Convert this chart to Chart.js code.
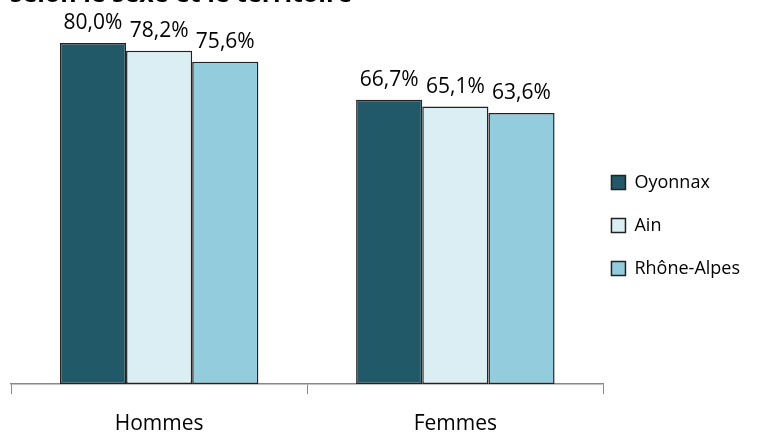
<!DOCTYPE html>
<html lang="fr">
<head>
<meta charset="UTF-8">
<title>Hommes / Femmes</title>
<script src="https://cdn.jsdelivr.net/npm/chart.js"></script>
<style>
    body { margin: 0; background: #fff; }
    #wrap { position: relative; width: 773px; height: 434px; overflow: hidden; }
    #titre {
        position: absolute; left: 10px; top: -22px;
        font-family: "Open Sans", sans-serif; font-weight: bold; font-size: 25px;
        line-height: 28px; color: #000; white-space: nowrap;
    }
</style>
</head>
<body>
<div id="wrap">
    <div id="titre">selon le sexe et le territoire</div>
    <canvas id="graph" width="773" height="434"></canvas>
</div>
<script>
    // données
    const categories = ['Hommes', 'Femmes'];
    const oyonnax = [80.0, 66.7];
    const ain = [78.2, 65.1];
    const rhoneAlpes = [75.6, 63.6];

    const police = '"Open Sans", sans-serif';

    // étiquettes de valeur au-dessus des barres
    const etiquettes = {
        id: 'etiquettes',
        afterDatasetsDraw(chart) {
            const ctx = chart.ctx;
            ctx.save();
            ctx.font = '21px ' + police;
            ctx.fillStyle = '#000';
            ctx.textAlign = 'center';
            ctx.textBaseline = 'alphabetic';
            chart.data.datasets.forEach((ds, i) => {
                chart.getDatasetMeta(i).data.forEach((bar, j) => {
                    const txt = ds.data[j].toFixed(1).replace('.', ',') + '%';
                    ctx.fillText(txt, bar.x, bar.y - 14);
                });
            });
            ctx.restore();
        }
    };

    // rapproche la légende de l'axe, comme sur l'original
    const decaleLegende = {
        id: 'decaleLegende',
        afterLayout(chart) {
            const l = chart.legend;
            l.left -= 17; l.right -= 17;
            l.top -= 1; l.bottom -= 1;
        }
    };

    new Chart(document.getElementById('graph'), {
        type: 'bar',
        data: {
            labels: categories,
            datasets: [
                { label: 'Oyonnax', data: oyonnax, backgroundColor: '#215968' },
                { label: 'Ain', data: ain, backgroundColor: '#DAEEF3' },
                { label: 'Rhône-Alpes', data: rhoneAlpes, backgroundColor: '#93CDDD' }
            ].map(d => Object.assign(d, { borderColor: '#222', borderWidth: 1.5, borderSkipped: false }))
        },
        plugins: [etiquettes, decaleLegende],
        options: {
            responsive: false,
            animation: false,
            layout: { padding: { top: 20, left: 11, right: 6, bottom: 1 } },
            datasets: { bar: { barPercentage: 1, categoryPercentage: 0.67 } },
            plugins: {
                tooltip: { enabled: false },
                legend: {
                    position: 'right',
                    labels: {
                        boxWidth: 14, boxHeight: 14, padding: 25,
                        color: '#000',
                        font: { family: police, size: 18 }
                    }
                }
            },
            scales: {
                x: {
                    afterFit(scale) { scale.height = 49; },
                    border: { color: '#888', width: 1.5 },
                    grid: { drawOnChartArea: false, drawTicks: true, tickLength: 10, color: '#888', offset: true },
                    ticks: { color: '#000', font: { family: police, size: 21 }, padding: 17 }
                },
                y: {
                    display: false,
                    min: 0, max: 85.4
                }
            }
        }
    });
</script>
</body>
</html>
